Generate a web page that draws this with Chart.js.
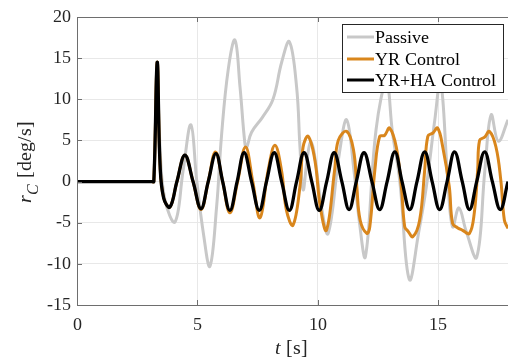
<!DOCTYPE html>
<html>
<head>
<meta charset="utf-8">
<script src="https://cdn.jsdelivr.net/npm/chart.js@4/dist/chart.umd.min.js"></script>
<style>
  @font-face { font-family: 'PlotSerif'; font-style: normal; src: local('Liberation Serif'), local('LiberationSerif'); }
  @font-face { font-family: 'PlotSerif'; font-style: italic; src: local('Liberation Serif Italic'), local('LiberationSerif-Italic'); }
  html, body { margin: 0; padding: 0; background: #fff; }
  canvas { display: block; }
</style>
</head>
<body>
<canvas id="rc_chart" width="508" height="360"></canvas>
<script>
// time [s] and yaw rate r_C [deg/s]
const tPassive = [0, 3.1, 3.19, 3.33, 3.45, 3.65, 4.07, 4.41, 4.73, 4.97, 5.25, 5.52, 5.8, 6.0, 6.28, 6.56, 6.77, 6.97, 7.04, 7.25, 7.7, 8.14, 8.5, 8.82, 9.12, 9.26, 9.39, 9.55, 9.7, 9.85, 10.15, 10.43, 10.9, 11.2, 11.5, 11.72, 11.98, 12.42, 12.85, 13.1, 13.4, 13.8, 14.2, 14.51, 14.86, 15.1, 15.4, 15.6, 15.86, 16.16, 16.6, 16.94, 17.2, 17.5, 17.9];
const rPassive = [0, 0, 0, 14.5, 4, -2.2, -4.9, 1.4, 6.9, 0.2, -6.3, -10.3, -3, 5.5, 13.6, 17.2, 11.5, 4.7, 4.1, 6.0, 7.8, 10.0, 14.5, 17.0, 11.5, 4.2, -1.0, 2.5, 4.8, 3.5, -3, -6.3, 3.5, 7.5, 1.4, -4.7, -9.1, 6.3, 12, 6, 0.2, -11.9, -6, -0.6, 7.5, 12.2, 0.2, -5.5, -3.2, -6, -9.2, 1.4, 8.1, 4.9, 7.5];

const tYR = [0, 3.1, 3.19, 3.33, 3.45, 3.6, 3.86, 4.15, 4.48, 4.82, 5.15, 5.45, 5.75, 6.05, 6.35, 6.67, 7.0, 7.3, 7.6, 7.94, 8.22, 8.49, 8.7, 8.97, 9.26, 9.39, 9.6, 9.88, 10.1, 10.36, 10.7, 10.85, 11.2, 11.48, 11.62, 11.76, 12.04, 12.16, 12.37, 12.57, 12.77, 12.98, 13.26, 13.47, 13.61, 13.74, 13.95, 14.23, 14.44, 14.57, 14.78, 14.98, 15.19, 15.46, 15.6, 15.8, 16.0, 16.3, 16.5, 16.64, 16.72, 16.93, 17.13, 17.4, 17.6, 17.75, 17.9];
const rYR = [0, 0, 0, 14.5, 2, -2, -3.1, 0, 3.2, 0, -3.4, 0, 3.6, 0, -3.8, 0, 4.2, 0, -4.4, 1.4, 4.4, 1.4, -3.5, -5.3, -0.6, 4.2, 5.5, 2.6, -3, -5.9, 1.4, 5.0, 6.1, 3.9, -0.6, -4.7, -6.3, -5.5, 1.4, 5.5, 5.6, 6.5, 4.2, -0.6, -5.5, -6.0, -6.7, -4.7, 1.4, 5.5, 5.9, 6.5, 4.2, -0.6, -5.1, -5.6, -5.9, -6.3, -3.8, 1.4, 5.0, 5.4, 6.1, 4.2, 0.2, -4.7, -5.7];

const tYRHA = [0, 3.1, 3.19, 3.33, 3.45, 3.6, 3.86, 4.15, 4.48, 4.82, 5.15, 5.45, 5.77, 6.05, 6.35, 6.65, 6.94, 7.25, 7.57, 7.87, 8.19, 8.5, 8.82, 9.12, 9.43, 9.75, 10.06, 10.37, 10.68, 11.0, 11.3, 11.6, 11.92, 12.25, 12.57, 12.88, 13.2, 13.5, 13.82, 14.12, 14.44, 14.75, 15.06, 15.37, 15.68, 16.0, 16.3, 16.6, 16.93, 17.25, 17.58, 17.9];
const rYRHA = [0, 0, 0, 14.5, 2, -2, -3.1, 0, 3.2, 0, -3.3, 0, 3.4, 0, -3.5, 0, 3.5, 0, -3.5, 0, 3.5, 0, -3.5, 0, 3.5, 0, -3.5, 0, 3.5, 0, -3.4, 0, 3.5, 0, -3.4, 0, 3.6, 0, -3.4, 0, 3.6, 0, -3.4, 0, 3.6, 0, -3.4, 0, 3.6, 0, -3.4, 0];

const seriesNames = ['Passive', 'YR Control', 'YR+HA Control'];
const xTicks = [0, 5, 10, 15];
const yTicks = [-15, -10, -5, 0, 5, 10, 15, 20];

const SERIF = "PlotSerif, 'Liberation Serif', 'Times New Roman', serif";
const colors = ['#c8c8c8', '#d9861c', '#000000'];

function pairs(ts, rs) {
    return ts.map((t, i) => ({ x: t, y: rs[i] }));
}

// frame, inward tick marks, legend and axis titles drawn the MATLAB way
const decorPlugin = {
    id: 'decor',
    afterDraw(chart) {
        const ctx = chart.ctx;
        const a = chart.chartArea;
        const xs = chart.scales.x, ys = chart.scales.y;
        ctx.save();

        // box
        ctx.strokeStyle = '#6e6e6e';
        ctx.lineWidth = 1;
        ctx.beginPath();
        ctx.moveTo(a.right + 2, a.top + 0.5);
        ctx.lineTo(a.left + 0.5, a.top + 0.5);
        ctx.lineTo(a.left + 0.5, a.bottom + 0.5);
        ctx.lineTo(a.right + 2, a.bottom + 0.5);
        ctx.stroke();

        // ticks pointing inside
        ctx.beginPath();
        xTicks.forEach(v => {
            const px = Math.round(xs.getPixelForValue(v)) + 0.5;
            ctx.moveTo(px, a.bottom);
            ctx.lineTo(px, a.bottom - 5);
            ctx.moveTo(px, a.top);
            ctx.lineTo(px, a.top + 5);
        });
        yTicks.forEach(v => {
            const py = Math.round(ys.getPixelForValue(v)) + 0.5;
            ctx.moveTo(a.left, py);
            ctx.lineTo(a.left + 5, py);
        });
        ctx.stroke();

        // legend
        const lx = 342, ly = 24, lw = 161, lh = 68;
        ctx.fillStyle = '#ffffff';
        ctx.fillRect(lx, ly, lw, lh);
        ctx.strokeStyle = '#262626';
        ctx.strokeRect(lx + 0.5, ly + 0.5, lw, lh);
        const rows = [37, 59, 80];
        ctx.font = '18px ' + SERIF;
        ctx.textBaseline = 'middle';
        ctx.textAlign = 'left';
        seriesNames.forEach((name, i) => {
            ctx.strokeStyle = colors[i];
            ctx.lineWidth = 3;
            ctx.beginPath();
            ctx.moveTo(347, rows[i]);
            ctx.lineTo(374, rows[i]);
            ctx.stroke();
            ctx.fillStyle = '#000000';
            ctx.fillText(name, 375, rows[i] + 1);
        });

        // x title: t [s]
        ctx.fillStyle = '#262626';
        ctx.font = 'italic 20px ' + SERIF;
        const wT = ctx.measureText('t').width;
        ctx.font = '20px ' + SERIF;
        const wRest = ctx.measureText(' [s]').width;
        let x0 = 291 - (wT + wRest) / 2;
        ctx.font = 'italic 20px ' + SERIF;
        ctx.fillText('t', x0, 349);
        ctx.font = '20px ' + SERIF;
        ctx.fillText(' [s]', x0 + wT, 349);

        // y title: r_C [deg/s], rotated
        ctx.translate(26, 162);
        ctx.rotate(-Math.PI / 2);
        ctx.font = 'italic 20px ' + SERIF;
        const wR = ctx.measureText('r').width;
        ctx.font = 'italic 16px ' + SERIF;
        const wC = ctx.measureText('C').width;
        ctx.font = '20px ' + SERIF;
        const wD = ctx.measureText(' [deg/s]').width;
        let s = -(wR + wC + wD) / 2;
        ctx.font = 'italic 20px ' + SERIF;
        ctx.fillText('r', s, 0);
        ctx.font = 'italic 16px ' + SERIF;
        ctx.fillText('C', s + wR, 8);
        ctx.font = '20px ' + SERIF;
        ctx.fillText(' [deg/s]', s + wR + wC + 1, 0);

        ctx.restore();
    }
};

let rcChart = null;

function drawChart() {
    if (rcChart) {
        rcChart.draw();
        return;
    }
    const ctx = document.getElementById('rc_chart').getContext('2d');
    rcChart = new Chart(ctx, {
        type: 'line',
        data: {
            datasets: [
                {
                    label: seriesNames[0],
                    data: pairs(tPassive, rPassive),
                    borderColor: colors[0],
                    borderWidth: 3,
                    order: 3
                },
                {
                    label: seriesNames[1],
                    data: pairs(tYR, rYR),
                    borderColor: colors[1],
                    borderWidth: 3,
                    order: 2
                },
                {
                    label: seriesNames[2],
                    data: pairs(tYRHA, rYRHA),
                    borderColor: colors[2],
                    borderWidth: 3.3,
                    order: 1
                }
            ]
        },
        options: {
            responsive: false,
            animation: false,
            events: [],
            elements: {
                point: { radius: 0 },
                line: { tension: 0.4, fill: false }
            },
            layout: { padding: { top: 17, left: 0, right: 0, bottom: 0 } },
            scales: {
                x: {
                    type: 'linear',
                    min: 0,
                    max: 17.9,
                    afterFit: (scale) => { scale.height = 55; },
                    border: { display: false },
                    grid: { color: '#e8e8e8', drawTicks: false },
                    ticks: {
                        stepSize: 5,
                        includeBounds: false,
                        padding: 9,
                        maxRotation: 0,
                        color: '#262626',
                        font: { family: SERIF, size: 18 }
                    }
                },
                y: {
                    min: -15,
                    max: 20,
                    afterFit: (scale) => { scale.width = 77; },
                    border: { display: false },
                    grid: { color: '#e8e8e8', drawTicks: false },
                    ticks: {
                        stepSize: 5,
                        padding: 6,
                        color: '#262626',
                        font: { family: SERIF, size: 18 }
                    }
                }
            },
            plugins: {
                legend: { display: false },
                tooltip: { enabled: false }
            }
        },
        plugins: [decorPlugin]
    });
}

// wait for the serif faces, then draw; redraw a bit later in case they came in late
Promise.all([
    document.fonts.load('18px PlotSerif'),
    document.fonts.load('20px PlotSerif'),
    document.fonts.load('italic 20px PlotSerif'),
    document.fonts.load("18px 'Liberation Serif'"),
    document.fonts.load("italic 20px 'Liberation Serif'")
]).catch(() => {}).then(() => {
    drawChart();
    setTimeout(drawChart, 100);
    setTimeout(drawChart, 400);
});
</script>
</body>
</html>
